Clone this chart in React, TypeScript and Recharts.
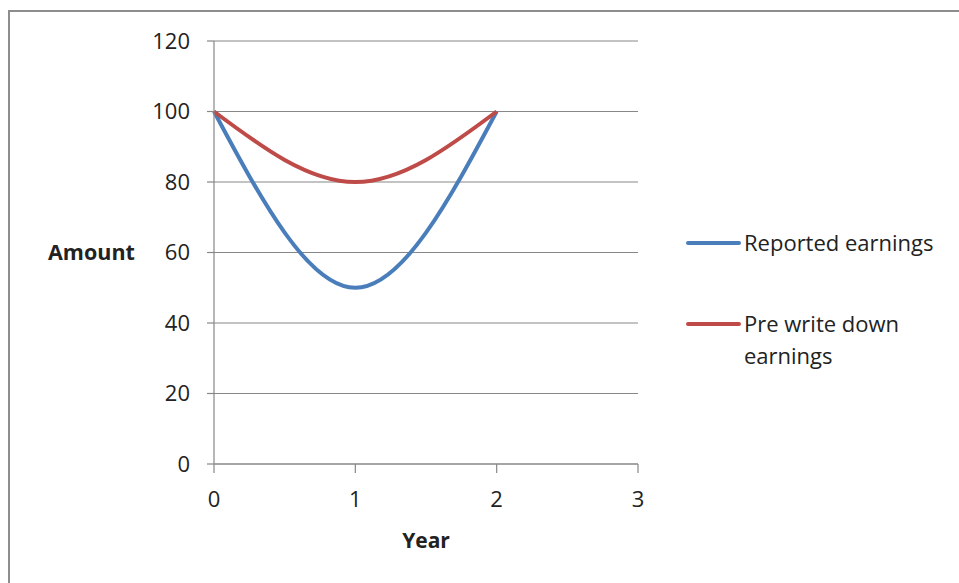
import { LineChart, Line, XAxis, YAxis, CartesianGrid } from 'recharts';

// values
const years = [0, 1, 2];
const reported = [100, 50, 100];
const preWriteDown = [100, 80, 100];
const xTicks = [0, 1, 2, 3];
const yTicks = [0, 20, 40, 60, 80, 100, 120];

const seriesNames = ['Reported earnings', 'Pre write down earnings'];
const seriesColors = ['#4a7ebb', '#be4b48'];

const data = years.map((year, i) => ({
  year,
  reported: reported[i],
  pre: preWriteDown[i],
}));

const FONT = '"Open Sans", sans-serif';
const GRID = '#878787';

const LegendBox = () => (
  <div style={{ position: 'absolute', left: 686, top: 226, fontFamily: FONT, fontSize: 22, color: '#222', width: 270 }}>
    {seriesNames.map((name, i) => (
      <div key={`lg-${i}`} style={{ display: 'flex', alignItems: 'flex-start', marginBottom: i === 0 ? 49 : 0 }}>
        <div style={{ width: 55, height: 4, background: seriesColors[i], marginTop: 15, borderRadius: 2, flexShrink: 0 }} />
        <div style={{ marginLeft: 3, lineHeight: '32px', width: i === 0 ? 210 : 175 }}>{name}</div>
      </div>
    ))}
  </div>
);

const App = () => {
  return (
    <div style={{ position: 'fixed', left: 0, top: 0, width: 959, height: 583, overflow: 'hidden', background: '#fff' }}>
      {/* chart frame */}
      <div style={{ position: 'absolute', left: 8, top: 10, width: 1000, height: 700, border: '2px solid #8d8d8d' }} />
      <LineChart
        width={959}
        height={583}
        data={data}
        margin={{ top: 41, right: 321, bottom: 79, left: 0 }}
        style={{ position: 'absolute', left: 0, top: 0 }}
      >
        <CartesianGrid vertical={false} stroke={GRID} strokeWidth={1.2} />
        <XAxis
          dataKey="year"
          type="number"
          domain={[0, 3]}
          ticks={xTicks}
          tickSize={9}
          tickMargin={18}
          height={40}
          stroke={GRID}
          strokeWidth={1.2}
          tick={{ fill: '#222', fontFamily: FONT, fontSize: 22 }}
          label={{ value: 'Year', position: 'insideBottom', offset: -44, fill: '#222', fontFamily: FONT, fontSize: 21, fontWeight: 'bold' }}
        />
        <YAxis
          type="number"
          domain={[0, 120]}
          ticks={yTicks}
          width={214}
          tickSize={7}
          tickMargin={17}
          stroke={GRID}
          strokeWidth={1.2}
          tick={{ fill: '#222', fontFamily: FONT, fontSize: 22 }}
          label={{ value: 'Amount', position: 'insideLeft', offset: 48, fill: '#222', fontFamily: FONT, fontSize: 21.5, fontWeight: 'bold' }}
        />
        <Line
          type="monotone"
          dataKey="reported"
          name={seriesNames[0]}
          stroke={seriesColors[0]}
          strokeWidth={4}
          dot={false}
          isAnimationActive={false}
        />
        <Line
          type="monotone"
          dataKey="pre"
          name={seriesNames[1]}
          stroke={seriesColors[1]}
          strokeWidth={4}
          dot={false}
          isAnimationActive={false}
        />
      </LineChart>
      <LegendBox />
    </div>
  );
};

export default App;
